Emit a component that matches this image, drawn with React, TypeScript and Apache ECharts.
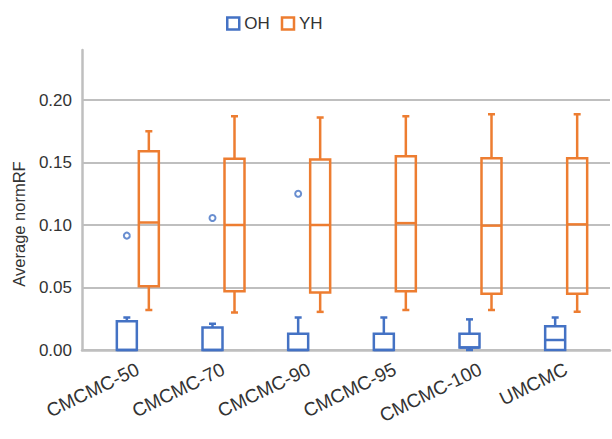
import React, { useEffect, useRef } from "react";
import * as echarts from "echarts";

const categories = ["CMCMC-50", "CMCMC-70", "CMCMC-90", "CMCMC-95", "CMCMC-100", "UMCMC"];
// [min, q1, median, q3, max]
const ohBoxes = [
  [0, 0, 0, 0.023, 0.026],
  [0, 0, 0, 0.018, 0.021],
  [0, 0, 0, 0.013, 0.026],
  [0, 0, 0, 0.013, 0.026],
  [0, 0.002, 0.002, 0.013, 0.0245],
  [0, 0, 0.008, 0.019, 0.026],
];
const yhBoxes = [
  [0.032, 0.051, 0.102, 0.159, 0.175],
  [0.030, 0.047, 0.1, 0.153, 0.187],
  [0.0305, 0.046, 0.1, 0.1525, 0.186],
  [0.032, 0.047, 0.1015, 0.155, 0.187],
  [0.032, 0.045, 0.0995, 0.1535, 0.1886],
  [0.0306, 0.045, 0.1005, 0.1535, 0.1886],
];
const ohOutliers = [
  [0, 0.0915],
  [1, 0.1056],
  [2, 0.125],
];
const yTicks = { min: 0, max: 0.24, interval: 0.05 };

const BLUE = "#4472C4";
const ORANGE = "#ED7D31";
const GRID = "#BFBFBF";
const TEXT = "#333333";
const FONT = "'Liberation Sans', Arial, sans-serif";

function boxRenderer(color: string, offset: number) {
  return (params: any, api: any) => {
    const cat = api.value(0);
    const vals = [1, 2, 3, 4, 5].map((i) => api.value(i));
    const pts = vals.map((v) => api.coord([cat, v]));
    const cx = pts[0][0] + offset;
    const [yMin, yQ1, yMed, yQ3, yMax] = pts.map((p: number[]) => p[1]);
    const hw = 10;
    const cw = 3.5;
    const style = { stroke: color, lineWidth: 2.5, fill: "none" };
    const children: any[] = [
      { type: "rect", shape: { x: cx - hw, y: yQ3, width: hw * 2, height: yQ1 - yQ3 }, style: { ...style } },
      { type: "line", shape: { x1: cx - hw, y1: yMed, x2: cx + hw, y2: yMed }, style: { ...style } },
    ];
    if (yMax < yQ3 - 0.5) {
      children.push({ type: "line", shape: { x1: cx, y1: yQ3, x2: cx, y2: yMax }, style: { ...style } });
      children.push({ type: "line", shape: { x1: cx - cw, y1: yMax, x2: cx + cw, y2: yMax }, style: { ...style } });
    }
    if (yMin > yQ1 + 0.5) {
      children.push({ type: "line", shape: { x1: cx, y1: yQ1, x2: cx, y2: yMin }, style: { ...style } });
      children.push({ type: "line", shape: { x1: cx - cw, y1: yMin, x2: cx + cw, y2: yMin }, style: { ...style } });
    }
    return { type: "group", children };
  };
}

export default function App() {
  const ref = useRef<HTMLDivElement>(null);
  useEffect(() => {
    if (!ref.current) return;
    const chart = echarts.init(ref.current, undefined, { renderer: "svg" });
    const option: any = {
      animation: false,
      backgroundColor: "#ffffff",
      textStyle: { fontFamily: FONT },
      legend: {
        top: 10,
        left: 221,
        itemWidth: 12,
        itemHeight: 12,
        itemGap: 11,
        textStyle: { fontSize: 17, color: TEXT, fontFamily: FONT },
        data: [
          { name: "OH", icon: "rect", itemStyle: { color: "#ffffff", borderColor: BLUE, borderWidth: 2.5 } },
          { name: "YH", icon: "rect", itemStyle: { color: "#ffffff", borderColor: ORANGE, borderWidth: 2.5 } },
        ],
      },
      grid: [
        { left: 82, right: 2, top: 50, bottom: 89 },
        { left: 95, right: 3, top: 50, bottom: 89 },
      ],
      xAxis: [
        {
          gridIndex: 0,
          type: "value",
          min: 0,
          max: 1,
          axisLine: { show: true, onZero: false, lineStyle: { color: GRID, width: 2.5 } },
          axisTick: { show: false },
          axisLabel: { show: false },
          splitLine: { show: false },
        },
        {
          gridIndex: 1,
          type: "category",
          data: categories,
          axisLine: { show: false },
          axisTick: { show: false },
          axisLabel: { rotate: 26, fontSize: 19, color: TEXT, margin: 18, fontFamily: FONT, interval: 0 },
          splitLine: { show: false },
        },
      ],
      yAxis: [
        {
          gridIndex: 0,
          type: "value",
          min: yTicks.min,
          max: yTicks.max,
          interval: yTicks.interval,
          axisLine: { show: true, lineStyle: { color: GRID, width: 2.5 } },
          axisTick: { show: false },
          axisLabel: {
            fontSize: 17,
            color: TEXT,
            margin: 10,
            fontFamily: FONT,
            showMaxLabel: false,
            formatter: (v: number) => v.toFixed(2),
          },
          splitLine: { show: true, showMaxLine: false, lineStyle: { color: GRID, width: 2 } },
        },
        {
          gridIndex: 1,
          type: "value",
          min: yTicks.min,
          max: yTicks.max,
          interval: yTicks.interval,
          show: false,
        },
      ],
      graphic: [
        {
          type: "text",
          x: 19,
          y: 224,
          rotation: Math.PI / 2,
          style: {
            text: "Average normRF",
            fontSize: 16.5,
            fill: TEXT,
            fontFamily: FONT,
            align: "center",
            verticalAlign: "middle",
          },
        },
      ],
      series: [
        {
          name: "OH",
          type: "custom",
          xAxisIndex: 1,
          yAxisIndex: 1,
          renderItem: boxRenderer(BLUE, -11),
          itemStyle: { color: BLUE },
          encode: { x: 0, y: [1, 2, 3, 4, 5] },
          data: ohBoxes.map((b, i) => [i, ...b]),
          z: 3,
        },
        {
          name: "YH",
          type: "custom",
          xAxisIndex: 1,
          yAxisIndex: 1,
          renderItem: boxRenderer(ORANGE, 11),
          itemStyle: { color: ORANGE },
          encode: { x: 0, y: [1, 2, 3, 4, 5] },
          data: yhBoxes.map((b, i) => [i, ...b]),
          z: 3,
        },
        {
          name: "OH outliers",
          type: "scatter",
          xAxisIndex: 1,
          yAxisIndex: 1,
          symbol: "circle",
          symbolSize: 6,
          symbolOffset: [-11, 0],
          itemStyle: { color: "#ffffff", borderColor: BLUE, borderWidth: 2 },
          data: ohOutliers,
          z: 4,
        },
      ],
    };
    chart.setOption(option);
    return () => chart.dispose();
  }, []);
  return (
    <div
      ref={ref}
      style={{ position: "fixed", left: 0, top: 0, width: 612, height: 439, background: "#fff" }}
    />
  );
}
